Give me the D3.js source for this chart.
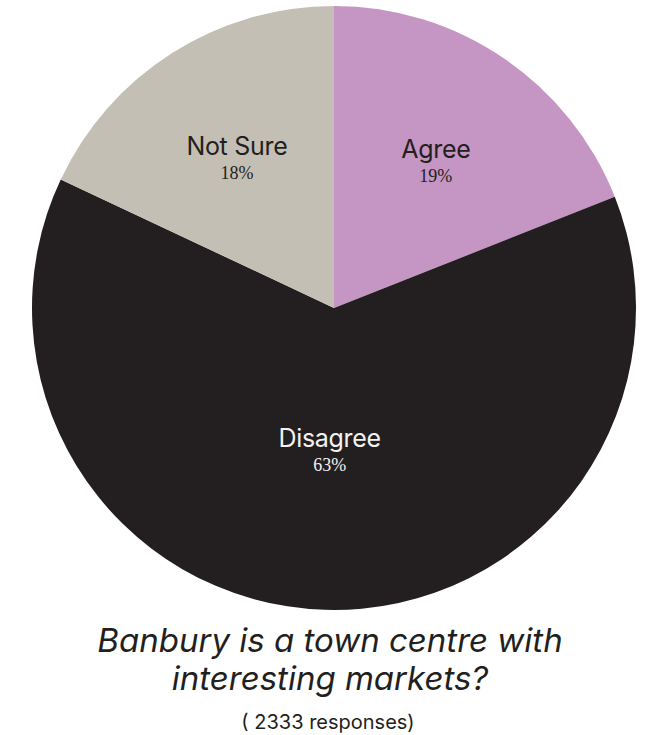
<!DOCTYPE html>
<html>
<head>
<meta charset="utf-8">
<script src="https://cdn.jsdelivr.net/npm/d3@7/dist/d3.min.js"></script>
<style>
  html, body { margin: 0; padding: 0; background: #ffffff; }
  svg { display: block; }
</style>
</head>
<body>
<script>
// Survey answers, in clockwise order from 12 o'clock
const categories = ["Agree", "Disagree", "Not Sure"];
const shares = [19, 63, 18];
const sliceColors = ["#c595c3", "#231f20", "#c4bfb4"];
const labelColors = ["#231f20", "#f2f2f2", "#231f20"];
const titleLines = ["Banbury is a town centre with", "interesting markets?"];
const responseNote = "( 2333 responses)";

const width = 652, height = 735;
const cx = 334, cy = 308, radius = 302;

const svg = d3.select("body").append("svg")
  .attr("width", width)
  .attr("height", height);

const data = categories.map((c, i) => ({ name: c, value: shares[i], i }));

const pie = d3.pie()
  .sort(null)
  .value(d => d.value);

const arc = d3.arc().innerRadius(0).outerRadius(radius);

const arcs = pie(data);

const g = svg.append("g").attr("transform", `translate(${cx},${cy})`);

g.selectAll("path.slice")
  .data(arcs)
  .join("path")
  .attr("class", "slice")
  .attr("d", arc)
  .attr("fill", d => sliceColors[d.data.i]);

// Bigger slices carry their label nearer the centre
const labelRadius = d => (d.data.value > 50 ? 0.46 : 0.6) * radius;

const labels = g.selectAll("g.label")
  .data(arcs)
  .join("g")
  .attr("class", "label")
  .attr("transform", d => {
    const a = (d.startAngle + d.endAngle) / 2;
    const r = labelRadius(d);
    return `translate(${r * Math.sin(a)},${-r * Math.cos(a)})`;
  });

labels.append("text")
  .attr("text-anchor", "middle")
  .attr("y", 0)
  .attr("font-family", "Inter, 'Noto Sans', sans-serif")
  .attr("font-size", 25)
  .attr("letter-spacing", -0.3)
  .attr("fill", d => labelColors[d.data.i])
  .text(d => d.data.name);

labels.append("text")
  .attr("text-anchor", "middle")
  .attr("y", 24)
  .attr("font-family", "'Liberation Serif', 'DejaVu Serif', serif")
  .attr("font-size", 18)
  .attr("fill", d => labelColors[d.data.i])
  .text(d => d.data.value + "%");

// Question title
svg.append("g")
  .selectAll("text")
  .data(titleLines)
  .join("text")
  .attr("x", width / 2 + 4)
  .attr("y", (d, i) => 652 + i * 38)
  .attr("text-anchor", "middle")
  .attr("font-family", "Inter, 'Noto Sans', sans-serif")
  .attr("font-style", "italic")
  .attr("font-size", 33)
  .attr("fill", "#231f20")
  .text(d => d);

svg.append("text")
  .attr("x", width / 2 + 2)
  .attr("y", 729)
  .attr("text-anchor", "middle")
  .attr("font-family", "Inter, 'Noto Sans', sans-serif")
  .attr("font-size", 20)
  .attr("fill", "#231f20")
  .text(responseNote);
</script>
</body>
</html>
